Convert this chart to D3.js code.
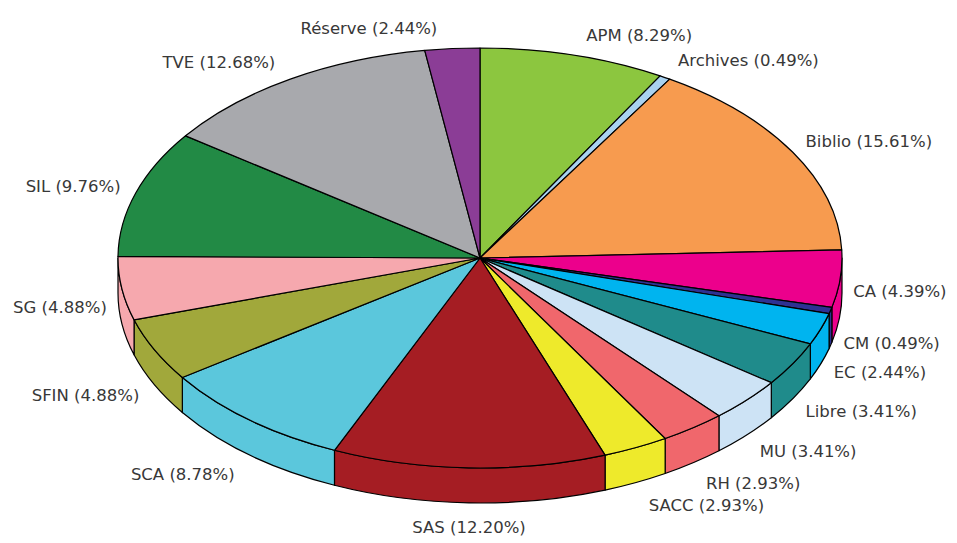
<!DOCTYPE html>
<html>
<head>
    <meta charset="UTF-8">
    <title>Répartition</title>
    <style>
        body { margin: 0; background: #fff; }
        svg { display: block; }
        .lbl { font-family: "DejaVu Sans", sans-serif; font-size: 16.5px; fill: #383838; }
        .slice { stroke: #000; stroke-width: 1.2px; stroke-linejoin: round; }
    </style>
    <script src="https://d3js.org/d3.v7.min.js"></script>
</head>
<body>
<div id="chart"></div>
<script>
    // data
    var names = ["APM", "Archives", "Biblio", "CA", "CM", "EC", "Libre", "MU", "RH", "SACC",
                 "SAS", "SCA", "SFIN", "SG", "SIL", "TVE", "Réserve"];
    var shares = [8.29, 0.49, 15.61, 4.39, 0.49, 2.44, 3.41, 3.41, 2.93, 2.93,
                  12.20, 8.78, 4.88, 4.88, 9.76, 12.68, 2.44];
    var colors = ["#8cc63f", "#a9d2f0", "#f79b4f", "#ec008c", "#2e3192", "#00b4ef", "#1f8b8b",
                  "#cde3f5", "#f0676c", "#eeea2b", "#a51d23", "#5bc7dc", "#a1a83b", "#f6a8ae",
                  "#228a45", "#a8a9ad", "#8b3d96"];

    var W = 957, H = 543;
    var cx = 480, cy = 258, rx = 362, ry = 210, depth = 35;

    var svg = d3.select("#chart").append("svg")
        .attr("width", W)
        .attr("height", H);

    var pie = d3.pie().sort(null).startAngle(0).endAngle(2 * Math.PI);
    var arcs = pie(shares);

    function pt(a, dy) {
        return [cx + rx * Math.sin(a), cy - ry * Math.cos(a) + (dy || 0)];
    }

    function topPath(d) {
        var p0 = pt(d.startAngle), p1 = pt(d.endAngle);
        var large = (d.endAngle - d.startAngle) > Math.PI ? 1 : 0;
        return "M" + cx + "," + cy + "L" + p0 + "A" + rx + " " + ry + " 0 " + large + " 1 " + p1 + "Z";
    }

    function sidePath(d) {
        var s0 = Math.max(d.startAngle, Math.PI / 2),
            s1 = Math.min(d.endAngle, 3 * Math.PI / 2);
        if (s1 <= s0) return null;
        var large = (s1 - s0) > Math.PI ? 1 : 0;
        return "M" + pt(s0) + "A" + rx + " " + ry + " 0 " + large + " 1 " + pt(s1) +
            "L" + pt(s1, depth) + "A" + rx + " " + ry + " 0 " + large + " 0 " + pt(s0, depth) + "Z";
    }

    // walls first, then the top faces
    svg.append("g").selectAll("path")
        .data(arcs.filter(function (d) { return sidePath(d) !== null; }))
        .enter().append("path")
        .attr("class", "slice")
        .attr("d", sidePath)
        .attr("fill", function (d) { return colors[d.index]; });

    svg.append("g").selectAll("path")
        .data(arcs)
        .enter().append("path")
        .attr("class", "slice")
        .attr("d", topPath)
        .attr("fill", function (d) { return colors[d.index]; });

    // labels outside the rim
    svg.append("g").selectAll("text")
        .data(arcs)
        .enter().append("text")
        .attr("class", "lbl")
        .attr("dominant-baseline", "central")
        .attr("text-anchor", function (d) {
            var s = Math.sin((d.startAngle + d.endAngle) / 2);
            return Math.abs(s) < 0.05 ? "middle" : (s > 0 ? "start" : "end");
        })
        .attr("x", function (d) {
            var a = (d.startAngle + d.endAngle) / 2, s = Math.sin(a);
            var p = pt(a);
            return Math.abs(s) < 0.05 ? p[0] : p[0] + (s > 0 ? 13 : -15);
        })
        .attr("y", function (d) {
            var a = (d.startAngle + d.endAngle) / 2, c = Math.cos(a);
            var p = pt(a);
            if (c >= 0) return p[1] - 20 * c;
            return p[1] + depth * Math.min(1, -c * 3) + 25 * (-c);
        })
        .text(function (d, i) { return names[i] + " (" + shares[i].toFixed(2) + "%)"; });
</script>
</body>
</html>
